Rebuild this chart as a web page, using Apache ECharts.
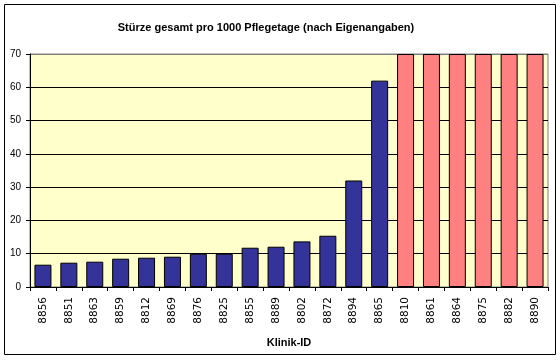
<!DOCTYPE html>
<html>
<head>
<meta charset="utf-8">
<script src="https://cdn.jsdelivr.net/npm/echarts@6/dist/echarts.min.js"></script>
<style>html,body{margin:0;padding:0;background:#fff}#c{width:560px;height:360px}</style>
</head>
<body>
<div id="c"></div>
<script>
const categories = ['8856','8851','8863','8859','8812','8869','8876','8825','8855','8889','8802','8872','8894','8865','8810','8861','8864','8875','8882','8890'];
const blueValues = [6.7,7.3,7.6,8.5,8.8,9.1,10.0,10.0,11.8,12.1,13.7,15.4,32.0,62.0,null,null,null,null,null,null];
const pinkValues = [null,null,null,null,null,null,null,null,null,null,null,null,null,null,70,70,70,70,70,70];
const yTicks = [0,10,20,30,40,50,60,70];

const chart = echarts.init(document.getElementById('c'));
chart.setOption({
  animation: false,
  backgroundColor: '#fff',
  title: {
    text: 'Stürze gesamt pro 1000 Pflegetage (nach Eigenangaben)',
    left: 261, top: 17, textAlign: 'center',
    textStyle: {fontFamily: 'Liberation Sans', fontSize: 11, fontWeight: 'bold', color: '#000'}
  },
  graphic: [{
    type: 'rect', shape: {x: 4.5, y: 4.5, width: 551, height: 350},
    style: {fill: 'none', stroke: '#000', lineWidth: 1}, silent: true
  }],
  grid: {
    left: 30, right: 12, top: 54, bottom: 73,
    show: true, backgroundColor: '#FFFFCC', borderColor: '#808080', borderWidth: 1
  },
  xAxis: {
    type: 'category', data: categories,
    name: 'Klinik-ID', nameLocation: 'middle', nameGap: 50,
    nameTextStyle: {fontFamily: 'Liberation Sans', fontSize: 11, fontWeight: 'bold', color: '#000'},
    axisLine: {lineStyle: {color: '#000', width: 1}},
    axisTick: {show: true, length: 4, lineStyle: {color: '#000'}},
    axisLabel: {rotate: 90, margin: 10, fontFamily: 'DejaVu Sans', fontSize: 10.5, color: '#000'},
    splitLine: {show: false}
  },
  yAxis: {
    type: 'value', min: 0, max: 70, interval: 10,
    axisLine: {show: true, lineStyle: {color: '#000', width: 1}},
    axisTick: {show: true, length: 4, lineStyle: {color: '#000'}},
    axisLabel: {margin: 9, fontFamily: 'Liberation Sans', fontSize: 10, color: '#000',
      formatter: v => yTicks.includes(v) ? String(v) : ''},
    splitLine: {show: true, lineStyle: {color: ['#000','#000','#000','#000','#000','#000','#000','#808080'], width: 1}}
  },
  series: [
    {type: 'bar', data: blueValues, barWidth: 17, barGap: '-100%',
     itemStyle: {color: '#333399', borderColor: '#000', borderWidth: 1}},
    {type: 'bar', data: pinkValues, barWidth: 17,
     itemStyle: {color: '#FF8080', borderColor: '#000', borderWidth: 1}}
  ]
});
</script>
</body>
</html>
